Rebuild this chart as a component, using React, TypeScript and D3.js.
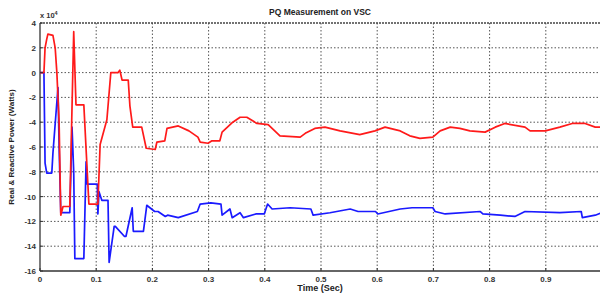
import React from "react";
import * as d3 from "d3";

// time in seconds, power in units of 1e4 W
const redT = [0, 0.007, 0.009, 0.012, 0.014, 0.023, 0.027, 0.030, 0.034, 0.037, 0.041, 0.053, 0.060, 0.064, 0.078, 0.087, 0.103, 0.107, 0.119, 0.126, 0.139, 0.142, 0.146, 0.157, 0.160, 0.165, 0.181, 0.189, 0.205, 0.208, 0.222, 0.226, 0.246, 0.265, 0.281, 0.285, 0.299, 0.306, 0.320, 0.324, 0.343, 0.356, 0.368, 0.386, 0.406, 0.427, 0.463, 0.472, 0.489, 0.507, 0.534, 0.569, 0.596, 0.614, 0.641, 0.658, 0.676, 0.699, 0.712, 0.730, 0.747, 0.765, 0.792, 0.810, 0.827, 0.863, 0.872, 0.899, 0.925, 0.947, 0.970, 0.988, 1.0];
const redV = [0, 0, 2.0, 2.7, 3.1, 3.0, 2.0, 0, -4.0, -11.5, -10.8, -10.8, 3.3, -2.6, -2.6, -10.6, -10.6, -5.8, -3.8, 0, 0, 0.2, -0.6, -0.6, -2.7, -4.4, -4.4, -6.1, -6.2, -5.6, -5.5, -4.5, -4.3, -4.7, -5.2, -5.6, -5.7, -5.5, -5.5, -4.8, -4.0, -3.6, -3.6, -4.1, -4.2, -5.1, -5.2, -4.9, -4.5, -4.4, -4.7, -5.0, -4.7, -4.4, -4.7, -5.1, -5.3, -5.2, -4.7, -4.4, -4.5, -4.7, -4.8, -4.4, -4.1, -4.4, -4.7, -4.7, -4.4, -4.1, -4.1, -4.4, -4.4];

const blueT = [0, 0.007, 0.009, 0.012, 0.021, 0.023, 0.032, 0.034, 0.037, 0.053, 0.055, 0.057, 0.060, 0.062, 0.078, 0.082, 0.084, 0.087, 0.102, 0.103, 0.105, 0.110, 0.121, 0.123, 0.132, 0.134, 0.150, 0.153, 0.164, 0.166, 0.184, 0.190, 0.204, 0.210, 0.223, 0.227, 0.246, 0.280, 0.285, 0.304, 0.322, 0.324, 0.338, 0.342, 0.356, 0.362, 0.384, 0.399, 0.405, 0.413, 0.445, 0.482, 0.486, 0.516, 0.552, 0.566, 0.597, 0.601, 0.641, 0.662, 0.699, 0.703, 0.721, 0.783, 0.788, 0.819, 0.845, 0.863, 0.925, 0.963, 0.965, 0.988, 1.0];
const blueV = [0, 0, -7.3, -8.1, -8.1, -6.5, -1.2, -6.0, -11.3, -11.3, -8.0, -4.4, -8.0, -15.0, -15.0, -7.2, -9.0, -9.0, -9.0, -11.4, -9.6, -10.3, -10.3, -15.3, -12.4, -12.4, -13.2, -13.2, -10.9, -12.8, -12.8, -10.7, -11.2, -11.2, -11.6, -11.5, -11.7, -11.2, -10.6, -10.5, -10.6, -11.5, -11.0, -11.7, -11.3, -11.7, -11.4, -11.4, -10.6, -11.0, -10.9, -11.0, -11.5, -11.3, -11.0, -11.2, -11.2, -11.4, -11.0, -10.9, -10.9, -11.2, -11.4, -11.2, -11.4, -11.5, -11.6, -11.2, -11.3, -11.2, -11.7, -11.5, -11.3];

const xTicks = [0, 0.1, 0.2, 0.3, 0.4, 0.5, 0.6, 0.7, 0.8, 0.9, 1.0];
const yTicks = [4, 2, 0, -2, -4, -6, -8, -10, -12, -14, -16];

export default function App() {
  const W = 600, H = 295;
  const left = 40, right = 602, top = 23, bottom = 271;
  const x = d3.scaleLinear().domain([0, 1]).range([left, right]);
  const y = d3.scaleLinear().domain([-16, 4]).range([bottom, top]);

  const redPath = d3.line<number>()
    .x((_, i) => x(redT[i]))
    .y((d) => y(d))(redV);
  const bluePath = d3.line<number>()
    .x((_, i) => x(blueT[i]))
    .y((d) => y(d))(blueV);

  const font = "Arial, 'Liberation Sans', sans-serif";

  return (
    <svg width={W} height={H} style={{ position: "absolute", left: 0, top: 0, background: "#fff" }}>
      <defs>
        <clipPath id="plot">
          <rect x={left} y={top - 1} width={right - left} height={bottom - top + 2} />
        </clipPath>
      </defs>
      <text x={320} y={15} textAnchor="middle" fontFamily={font} fontWeight="bold" fontSize={8.5} fill="#222">
        PQ Measurement on VSC
      </text>
      {/* grid */}
      {xTicks.slice(1).map((t) => (
        <line key={"gx" + t} x1={x(t)} x2={x(t)} y1={top} y2={bottom} stroke="#555" strokeWidth={1} strokeDasharray="1.5,2" />
      ))}
      {yTicks.slice(1, -1).map((v) => (
        <line key={"gy" + v} x1={left} x2={right} y1={y(v)} y2={y(v)} stroke="#555" strokeWidth={1} strokeDasharray="1.5,2" />
      ))}
      {/* frame */}
      <line x1={left} x2={right} y1={top} y2={top} stroke="#444" strokeWidth={1.3} strokeDasharray="2,1" />
      <line x1={left} x2={left} y1={top} y2={bottom} stroke="#333" strokeWidth={1.3} />
      <line x1={left} x2={right} y1={bottom} y2={bottom} stroke="#333" strokeWidth={1.3} />
      <g clipPath="url(#plot)">
        <path d={bluePath ?? ""} fill="none" stroke="#1a1aff" strokeWidth={1.7} strokeLinejoin="round" />
        <path d={redPath ?? ""} fill="none" stroke="#ff1a1a" strokeWidth={1.7} strokeLinejoin="round" />
      </g>
      {/* y ticks */}
      {yTicks.map((v) => (
        <g key={"ty" + v}>
          <line x1={left} x2={left + 3} y1={y(v)} y2={y(v)} stroke="#333" />
          <text x={left - 4} y={y(v) + 3} textAnchor="end" fontFamily={font} fontWeight="bold" fontSize={8} fill="#333">
            {v}
          </text>
        </g>
      ))}
      {xTicks.slice(0, -1).map((t) => (
        <g key={"tx" + t}>
          <line x1={x(t)} x2={x(t)} y1={bottom} y2={bottom - 3} stroke="#333" />
          <text x={x(t)} y={bottom + 11} textAnchor="middle" fontFamily={font} fontWeight="bold" fontSize={8} fill="#333">
            {d3.format("")(+t.toFixed(1))}
          </text>
        </g>
      ))}
      <text x={left} y={18} fontFamily={font} fontWeight="bold" fontSize={7.5} fill="#333">
        x 10<tspan dy={-3} fontSize={5.5}>4</tspan>
      </text>
      <text x={320} y={291} textAnchor="middle" fontFamily={font} fontWeight="bold" fontSize={9} fill="#222">
        Time (Sec)
      </text>
      <text transform={`translate(14,${(top + bottom) / 2}) rotate(-90)`} textAnchor="middle" fontFamily={font} fontWeight="bold" fontSize={8} fill="#222">
        Real &amp; Reactive Power (Watts)
      </text>
    </svg>
  );
}
